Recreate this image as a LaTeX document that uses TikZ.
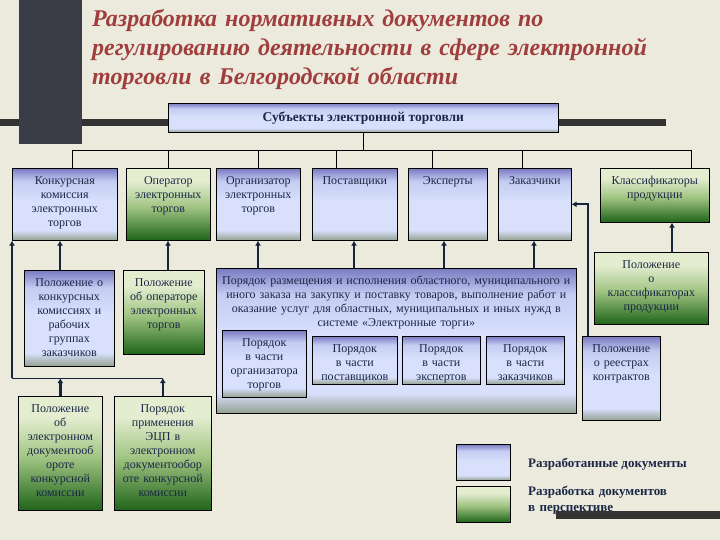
\documentclass[tikz,border=0pt]{standalone}
\usepackage{fontspec}
\setmainfont{Liberation Serif}
\usetikzlibrary{arrows.meta,positioning}

\definecolor{bgpaper}{HTML}{ECEADC}
\definecolor{darkband}{HTML}{3A3C48}
\definecolor{barcol}{HTML}{333333}
\definecolor{titlered}{HTML}{A03E3E}
\definecolor{inkblue}{HTML}{1A2846}
\definecolor{arrowcol}{HTML}{15263C}
\definecolor{bluetop}{HTML}{7A7AC2}
\definecolor{bluemid}{HTML}{C4CCF2}
\definecolor{bluelow}{HTML}{D8E0FC}
\definecolor{bluebot}{HTML}{93A08F}
\definecolor{greentop}{HTML}{E4EDD0}
\definecolor{greenmid}{HTML}{A0C482}
\definecolor{greenbot}{HTML}{1F6419}

% shadings: the path covers 25bp..75bp
\pgfdeclareverticalshading{docblue}{100bp}{color(0bp)=(bluebot); color(25bp)=(bluebot); color(32bp)=(bluelow); color(52bp)=(bluelow); color(66bp)=(bluemid); color(75bp)=(bluetop); color(100bp)=(bluetop)}
\pgfdeclareverticalshading{docgreen}{100bp}{color(0bp)=(greenbot); color(25bp)=(greenbot); color(48bp)=(greenmid); color(66bp)=(greentop); color(75bp)=(greentop); color(100bp)=(greentop)}

\tikzset{
    doc/.style={draw=black, line width=0.6pt, anchor=north west, align=center,
        inner xsep=2pt, inner ysep=4pt, text height=12pt, text=inkblue,
        font=\fontsize{12}{14}\selectfont},
    done/.style={doc, shade, shading=docblue},
    plan/.style={doc, shade, shading=docgreen},
    link/.style={draw=arrowcol, line width=2.5pt, -{Latex[length=5pt,width=6pt]}},
    tree/.style={draw=black, line width=0.7pt},
    legendtext/.style={anchor=base west, inner sep=0pt, text=inkblue, align=left,
        font=\fontsize{13}{16}\selectfont\bfseries}
}

\begin{document}
\begin{tikzpicture}[x=1pt, y=-1pt]
    \useasboundingbox (0,0) rectangle (720,540);
    \fill[bgpaper] (0,0) rectangle (720,540);

    % dark decoration
    \fill[barcol] (0,119) rectangle (666,126);
    \fill[darkband] (19,0) rectangle (82,144);
    \fill[barcol] (556,511) rectangle (720,519);

    \node[anchor=base west, inner sep=0pt, text width=620, align=left, text=titlered,
        font=\fontsize{24}{29}\selectfont\bfseries\itshape] (title) at (92,27)
        {Разработка нормативных документов по\\регулированию деятельности в сфере электронной\\торговли в Белгородской области};

    \node[done, align=center, minimum width=390, minimum height=29, text height=, text depth=,
        font=\fontsize{13.5}{16}\selectfont\bfseries] (subj) at (168,103) {Субъекты электронной торговли};

    % first row
    \node[done, text width=101, text depth=52] (komis) at (12,168) {Конкурсная\\комиссия\\электронных\\торгов};
    \node[plan, text width=80, text depth=52] (oper) at (126,168) {Оператор\\электронных\\торгов};
    \node[done, text width=80, text depth=52] (org) at (216,168) {Организатор\\электронных\\торгов};
    \node[done, text width=81, text depth=52] (post) at (312,168) {Поставщики};
    \node[done, text width=75, text depth=52] (eksp) at (408,168) {Эксперты};
    \node[done, text width=69, text depth=52] (zak) at (498,168) {Заказчики};
    \node[plan, text width=105, text depth=34] (klass) at (600,168) {Классификаторы\\продукции};

    % second row
    \node[done, text width=86, text depth=76] (polkom) at (24,270) {Положение о\\конкурсных\\комиссиях и\\рабочих\\группах\\заказчиков};
    \node[plan, text width=77, text depth=64] (poloper) at (123,270) {Положение\\об операторе\\электронных\\торгов};
    \node[done, text width=356, text depth=125] (poryad) at (216,268) {Порядок размещения и исполнения областного, муниципального и\\иного заказа на закупку и поставку товаров, выполнение работ и\\оказание услуг для областных, муниципальных и иных нужд в\\системе «Электронные торги»};
    \node[done, text width=80, text depth=47] (porg) at (222,330) {Порядок\\в части\\организатора\\торгов};
    \node[done, text width=81, text depth=28] (ppost) at (312,336) {Порядок\\в части\\поставщиков};
    \node[done, text width=74, text depth=28] (peksp) at (402,336) {Порядок\\в части\\экспертов};
    \node[done, text width=74, text depth=28] (pzak) at (486,336) {Порядок\\в части\\заказчиков};
    \node[plan, text width=110, text depth=52] (polklass) at (594,252) {Положение\\о\\классификаторах\\продукции};
    \node[done, text width=74, text depth=64] (reestr) at (582,336) {Положение\\о реестрах\\контрактов};

    % third row
    \node[plan, text width=80, text depth=94] (eldoc) at (18,396) {Положение\\об\\электронном\\документооб\\ороте\\конкурсной\\комиссии};
    \node[plan, text width=93, text depth=94] (ecp) at (114,396) {Порядок\\применения\\ЭЦП в\\электронном\\документообор\\оте конкурсной\\комиссии};

    % legend
    \node[done, minimum width=54, minimum height=36, text height=, text depth=] (lgdone) at (456,444) {};
    \node[plan, minimum width=54, minimum height=36, text height=, text depth=] (lgplan) at (456,486) {};
    \node[legendtext] (lgdonetext) at (528,467) {Разработанные документы};
    \node[legendtext, text width=180] (lgplantext) at (528,495) {Разработка документов\\в перспективе};

    % tree from the subjects
    \coordinate (busL) at (72,150);
    \coordinate (busR) at (691,150);
    \draw[tree] (subj.south) -- (subj.south |- busL);
    \draw[tree] (busL) -- (busR);
    \foreach \n/\x in {komis/72, oper/168, org/258, post/336, eksp/432, zak/522, klass/691}
        \draw[tree] (busL -| \x,0) -- (\n.north -| \x,0);

    % documents to subjects
    \draw[link] (polkom.north -| 60,0) -- (komis.south -| 60,0);
    \draw[link] (poloper.north -| 168,0) -- (oper.south -| 168,0);
    \foreach \n/\x in {org/258, post/354, eksp/444, zak/534}
        \draw[link] (poryad.north -| \x,0) -- (\n.south -| \x,0);
    \draw[link] (polklass.north -| 672,0) -- (klass.south -| 672,0);
    \draw[link, line width=1.6pt] (reestr.north -| 588,0) |- (zak.east);

    \coordinate (kbus) at (12,378);
    \draw[link] (eldoc.north) -- (eldoc.north |- kbus);
    \draw[link] (ecp.north) -- (ecp.north |- kbus);
    \draw[draw=arrowcol, line width=1pt] (ecp.north |- kbus) -- (kbus);
    \draw[link] (kbus) -- (kbus |- komis.south);
\end{tikzpicture}
\end{document}
